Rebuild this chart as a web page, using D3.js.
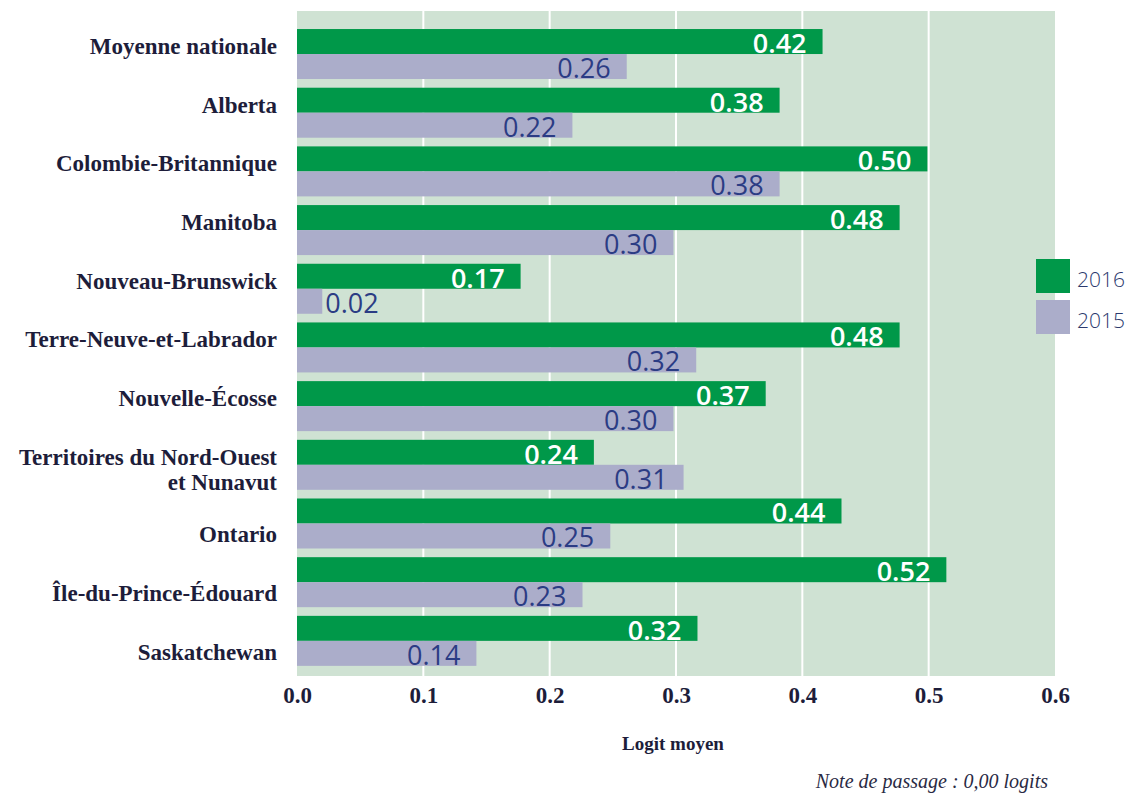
<!DOCTYPE html>
<html>
<head>
<meta charset="utf-8">
<script src="https://cdn.jsdelivr.net/npm/d3@7"></script>
<style>
  body { margin: 0; background: #fff; }
  svg { display: block; }
</style>
</head>
<body>
<div id="chart"></div>
<script>
// provinces, top to bottom (TNO label is split on two lines)
var provinces = [
  'Moyenne nationale', 'Alberta', 'Colombie-Britannique', 'Manitoba',
  'Nouveau-Brunswick', 'Terre-Neuve-et-Labrador', 'Nouvelle-Écosse',
  'Territoires du Nord-Ouest|et Nunavut', 'Ontario', 'Île-du-Prince-Édouard',
  'Saskatchewan'
]
var years = ['2016', '2015']
// bar lengths
var values2016 = [0.416, 0.382, 0.499, 0.477, 0.177, 0.477, 0.371, 0.235, 0.431, 0.514, 0.317]
var values2015 = [0.261, 0.218, 0.382, 0.298, 0.020, 0.316, 0.298, 0.306, 0.248, 0.226, 0.142]
// printed values
var labels2016 = ['0.42', '0.38', '0.50', '0.48', '0.17', '0.48', '0.37', '0.24', '0.44', '0.52', '0.32']
var labels2015 = ['0.26', '0.22', '0.38', '0.30', '0.02', '0.32', '0.30', '0.31', '0.25', '0.23', '0.14']
var xTicks = [0, 0.1, 0.2, 0.3, 0.4, 0.5, 0.6]
var xTitle = 'Logit moyen'
var note = 'Note de passage : 0,00 logits'

var W = 1131, H = 797
var margin = {top: 11, right: 76, bottom: 121, left: 297}
var width = W - margin.left - margin.right,
    height = H - margin.top - margin.bottom

var colors = {'2016': '#009849', '2015': '#abadca'}
var serif = '"Liberation Serif", "DejaVu Serif", serif'
var sans = '"Open Sans", "Noto Sans", sans-serif'

var svg = d3.select('#chart').append('svg')
  .attr('width', W)
  .attr('height', H)

var g = svg.append('g')
  .attr('transform', 'translate(' + margin.left + ',' + margin.top + ')')

var x = d3.scaleLinear().domain([0, 0.6]).range([0, width])
var y = d3.scaleBand()
  .domain(provinces)
  .range([0, height])
  .paddingInner(0.148)
  .paddingOuter(0.24)
  .align(0.64)
var ySub = d3.scaleBand().domain(years).range([0, y.bandwidth()])

// fond
g.append('rect')
  .attr('width', width)
  .attr('height', height)
  .attr('fill', '#cfe2d3')

// grille
g.selectAll('.grid')
  .data(xTicks.filter(function(t) { return t > 0 && t < 0.6 }))
  .enter().append('line')
  .attr('x1', function(d) { return x(d) })
  .attr('x2', function(d) { return x(d) })
  .attr('y1', 0)
  .attr('y2', height)
  .attr('stroke', '#fff')
  .attr('stroke-width', 2)

var rows = provinces.map(function(p, i) {
  return {
    name: p,
    i: i,
    bars: [
      {year: '2016', v: values2016[i], label: labels2016[i]},
      {year: '2015', v: values2015[i], label: labels2015[i]}
    ]
  }
})

var row = g.selectAll('.row')
  .data(rows)
  .enter().append('g')
  .attr('class', 'row')
  .attr('transform', function(d) { return 'translate(0,' + y(d.name) + ')' })

var bar = row.selectAll('.bar')
  .data(function(d) { return d.bars })
  .enter().append('g')

bar.append('rect')
  .attr('x', 0)
  .attr('y', function(d) { return ySub(d.year) })
  .attr('width', function(d) { return x(d.v) })
  .attr('height', ySub.bandwidth())
  .attr('fill', function(d) { return colors[d.year] })

// valeurs
bar.append('text')
  .attr('y', function(d) { return ySub(d.year) + ySub.bandwidth() - 1 })
  .attr('font-family', sans)
  .attr('font-size', 27)
  .attr('font-weight', function(d) { return d.year === '2016' ? 600 : 500 })
  .attr('fill', function(d) { return d.year === '2016' ? '#fff' : '#2b3c84' })
  .text(function(d) { return d.label })
  .each(function(d) {
    var t = d3.select(this)
    var w = this.getComputedTextLength()
    if (w + 20 > x(d.v)) {
      t.attr('x', x(d.v) + 3).attr('text-anchor', 'start')
    } else {
      t.attr('x', x(d.v) - 16).attr('text-anchor', 'end')
    }
  })

// noms des provinces (the last three sit lower in the original)
row.append('text')
  .attr('font-family', serif)
  .attr('font-size', 23)
  .attr('font-weight', 'bold')
  .attr('fill', '#1d1d3a')
  .attr('text-anchor', 'end')
  .each(function(d) {
    var t = d3.select(this)
    var lines = d.name.split('|')
    var base = ySub.bandwidth() + (d.i >= 8 ? 19 : 0)
    lines.forEach(function(l, k) {
      t.append('tspan')
        .attr('x', -20)
        .attr('y', base + k * 25)
        .text(l)
    })
  })

// axe x
var xAxis = d3.axisBottom(x)
  .tickValues(xTicks)
  .tickFormat(d3.format('.1f'))
  .tickSize(0)
  .tickPadding(0)

g.append('g')
  .attr('transform', 'translate(0,' + height + ')')
  .call(xAxis)
  .call(function(a) {
    a.select('.domain').remove()
    a.selectAll('.tick text')
      .attr('dy', null)
      .attr('y', 27)
      .attr('font-family', serif)
      .attr('font-size', 23)
      .attr('font-weight', 'bold')
      .attr('fill', '#1d1d3a')
  })

svg.append('text')
  .attr('x', 673)
  .attr('y', 750)
  .attr('text-anchor', 'middle')
  .attr('font-family', serif)
  .attr('font-size', 19)
  .attr('font-weight', 'bold')
  .attr('fill', '#1d1d3a')
  .text(xTitle)

svg.append('text')
  .attr('x', 1048)
  .attr('y', 788)
  .attr('text-anchor', 'end')
  .attr('font-family', serif)
  .attr('font-size', 20)
  .attr('font-style', 'italic')
  .attr('fill', '#2a2a44')
  .text(note)

// légende
var legend = svg.selectAll('.legend')
  .data(years)
  .enter().append('g')
  .attr('transform', function(d, i) { return 'translate(1036,' + (259 + i * 41) + ')' })

legend.append('rect')
  .attr('width', 34)
  .attr('height', 34)
  .attr('fill', function(d) { return colors[d] })

legend.append('text')
  .attr('x', 41)
  .attr('y', 28)
  .attr('font-family', sans)
  .attr('font-size', 21)
  .attr('font-weight', 300)
  .attr('fill', '#2c3a6e')
  .text(function(d) { return d })
</script>
</body>
</html>
